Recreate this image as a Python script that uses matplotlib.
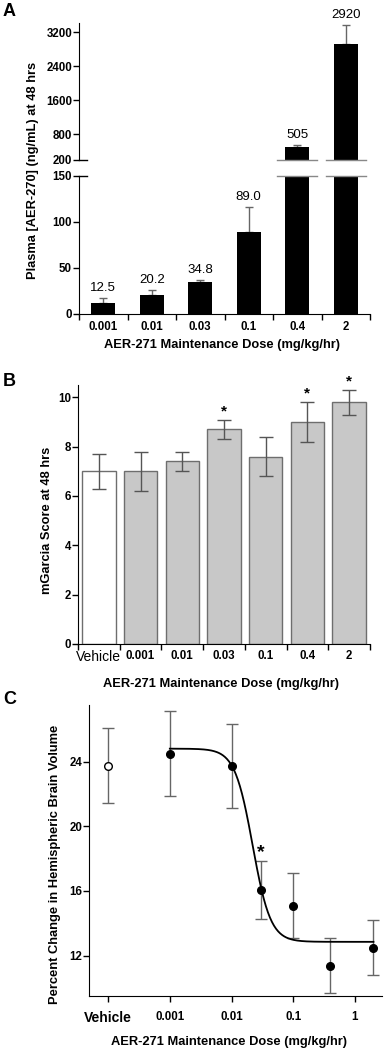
import numpy as np
import matplotlib.pyplot as plt

plt.rcParams['font.family'] = ['Liberation Sans', 'DejaVu Sans']

# Panel A: plasma AER-270 at 48 hrs
doses_a = ['0.001', '0.01', '0.03', '0.1', '0.4', '2']
plasma = [12.5, 20.2, 34.8, 89.0, 505, 2920]
plasma_err = [5, 6, 1.8, 27, 50, 450]
plasma_txt = ['12.5', '20.2', '34.8', '89.0', '505', '2920']

# Panel B: mGarcia score
groups_b = ['Vehicle', '0.001', '0.01', '0.03', '0.1', '0.4', '2']
garcia = [7.0, 7.0, 7.4, 8.7, 7.6, 9.0, 9.8]
garcia_err = [0.72, 0.8, 0.4, 0.4, 0.8, 0.8, 0.5]
garcia_sig = [False, False, False, True, False, True, True]

# Panel C: hemispheric brain volume
dose_c = [0.001, 0.01, 0.03, 0.1, 0.4, 2]
volume = [24.5, 23.75, 16.06, 15.08, 11.38, 12.48]
volume_err = [2.6, 2.6, 1.8, 2.0, 1.7, 1.7]
vehicle_vol = 23.75
vehicle_err = 2.3
# sigmoid fit shown in the figure
fit_top, fit_bottom, fit_ic50, fit_hill = 24.8, 12.85, 0.022, 3.0

ERR = '#666666'
TICK = 8.3
LAB = 9.3
fig = plt.figure(figsize=(3.84, 10.5), dpi=100)


def W(px):
    return px / 384.0


def H(y0, y1):
    return [1 - y1 / 1050.0, (y1 - y0) / 1050.0]


# ---------- A ----------
b0, h0 = H(23, 160)
axt = fig.add_axes([W(79), b0, W(291), h0])
b1, h1 = H(176, 314)
axb = fig.add_axes([W(79), b1, W(291), h1])
x = np.arange(len(doses_a))
for ax in (axt, axb):
    ax.bar(x, plasma, width=0.5, color='black', zorder=2)
    ax.errorbar(x, plasma, yerr=[np.zeros(len(x)), plasma_err], fmt='none',
                ecolor=ERR, elinewidth=1, capsize=3, zorder=1)
    ax.set_xlim(-0.5, 5.5)
    for s in ('top', 'right'):
        ax.spines[s].set_visible(False)
    ax.tick_params(axis='y', labelsize=TICK, length=4, width=1, pad=1)

axt.set_ylim(200, 3420)
axt.set_yticks([200, 800, 1600, 2400, 3200])
axt.spines['bottom'].set_visible(False)
axt.set_xticks([])
axb.set_ylim(0, 150)
axb.set_yticks([0, 50, 100, 150])
for ax in (axt, axb):
    for lab in ax.get_yticklabels():
        lab.set_fontweight('bold')

axb.set_xticks(np.arange(-0.5, 6, 1))
axb.set_xticklabels([])
axb.set_xticks(x, minor=True)
axb.set_xticklabels(doses_a, minor=True, fontsize=TICK, fontweight='bold')
axb.tick_params(axis='x', which='major', length=4, width=1)
axb.tick_params(axis='x', which='minor', length=0, pad=5)

for i in (4, 5):
    axt.plot([i - 0.41, i + 0.41], [200, 200], color='#888888', lw=1, clip_on=False)
    axb.plot([i - 0.41, i + 0.41], [150, 150], color='#888888', lw=1, clip_on=False)
axt.plot([-0.5, -0.33], [200, 200], color='black', lw=1, clip_on=False)
axb.plot([-0.5, -0.33], [150, 150], color='black', lw=1, clip_on=False)

for i, (v, e, t) in enumerate(zip(plasma, plasma_err, plasma_txt)):
    ax = axt if v > 150 else axb
    ax.annotate(t, (i, v + e), xytext=(0, 3), textcoords='offset points',
                ha='center', va='bottom', fontsize=9.5)

fig.text(W(33), 1 - 170 / 1050, 'Plasma [AER-270] (ng/mL) at 48 hrs', rotation=90,
         ha='center', va='center', fontsize=LAB, fontweight='bold')
fig.text(W(222), 1 - 345 / 1050, 'AER-271 Maintenance Dose (mg/kg/hr)',
         ha='center', va='center', fontsize=LAB, fontweight='bold')
fig.text(W(3), 1 - 11 / 1050, 'A', ha='left', va='center', fontsize=13, fontweight='bold')

# ---------- B ----------
bb, hb = H(385, 644)
axB = fig.add_axes([W(78), bb, W(292), hb])
xb = np.arange(len(groups_b))
cols = ['white'] + ['#c8c8c8'] * (len(groups_b) - 1)
axB.bar(xb, garcia, width=0.8, color=cols, edgecolor='#6e6e6e', linewidth=1, zorder=2)
axB.errorbar(xb, garcia, yerr=garcia_err, fmt='none', ecolor='#555555',
             elinewidth=1, capsize=5, zorder=3)
for i, s in enumerate(garcia_sig):
    if s:
        axB.annotate('*', (i, garcia[i] + garcia_err[i]), xytext=(0, 1),
                     textcoords='offset points', ha='center', va='bottom',
                     fontsize=11, fontweight='bold', annotation_clip=False)
axB.set_xlim(-0.5, 6.5)
axB.set_ylim(0, 10.5)
axB.set_yticks([0, 2, 4, 6, 8, 10])
for s in ('top', 'right'):
    axB.spines[s].set_visible(False)
axB.tick_params(axis='y', labelsize=TICK, length=4, width=1, pad=1)
for lab in axB.get_yticklabels():
    lab.set_fontweight('bold')
axB.set_xticks(np.arange(-0.5, 7, 1))
axB.set_xticklabels([])
axB.set_xticks(xb, minor=True)
axB.set_xticklabels(groups_b, minor=True, fontsize=TICK, fontweight='bold')
axB.tick_params(axis='x', which='major', length=4, width=1)
axB.tick_params(axis='x', which='minor', length=0, pad=4)
vlab = axB.get_xticklabels(minor=True)[0]
vlab.set_fontsize(10)
vlab.set_fontweight('normal')

fig.text(W(47), 1 - 520 / 1050, 'mGarcia Score at 48 hrs', rotation=90,
         ha='center', va='center', fontsize=LAB, fontweight='bold')
fig.text(W(221), 1 - 684 / 1050, 'AER-271 Maintenance Dose (mg/kg/hr)',
         ha='center', va='center', fontsize=LAB, fontweight='bold')
fig.text(W(3), 1 - 382 / 1050, 'B', ha='left', va='center', fontsize=13, fontweight='bold')

# ---------- C ----------
bc, hc = H(705, 996)
axC = fig.add_axes([W(89), bc, W(293), hc])
axC.set_xscale('log')
xc = np.logspace(np.log10(dose_c[0]), np.log10(dose_c[-1]), 300)
yc = fit_bottom + (fit_top - fit_bottom) / (1 + (xc / fit_ic50) ** fit_hill)
axC.plot(xc, yc, color='black', lw=1.3, zorder=2)
axC.errorbar(dose_c, volume, yerr=volume_err, fmt='none', ecolor=ERR,
             elinewidth=1, capsize=4, zorder=1)
axC.plot(dose_c, volume, 'o', color='black', ms=5.5, zorder=3)
axC.errorbar([1e-4], [vehicle_vol], yerr=[vehicle_err], fmt='none', ecolor=ERR,
             elinewidth=1, capsize=4, zorder=1)
axC.plot([1e-4], [vehicle_vol], 'o', mfc='white', mec='black', ms=5.5, mew=1, zorder=3)
axC.text(0.0295, 18.4, '*', ha='center', va='center', fontsize=14, fontweight='bold')
axC.set_xlim(4.9e-5, 2.75)
axC.set_ylim(9.5, 27.5)
axC.set_yticks([12, 16, 20, 24])
axC.set_xticks([1e-4, 1e-3, 1e-2, 1e-1, 1])
axC.set_xticklabels(['Vehicle', '0.001', '0.01', '0.1', '1'])
axC.minorticks_off()
for s in ('top', 'right'):
    axC.spines[s].set_visible(False)
axC.tick_params(axis='both', labelsize=TICK, length=4, width=1)
axC.tick_params(axis='x', pad=7)
axC.tick_params(axis='y', pad=1)
for lab in axC.get_yticklabels() + axC.get_xticklabels():
    lab.set_fontweight('bold')
axC.get_xticklabels()[0].set_fontsize(10)

fig.text(W(55), 1 - 864 / 1050, 'Percent Change in Hemispheric Brain Volume', rotation=90,
         ha='center', va='center', fontsize=LAB, fontweight='bold')
fig.text(W(229), 1 - 1042 / 1050, 'AER-271 Maintenance Dose (mg/kg/hr)',
         ha='center', va='center', fontsize=LAB, fontweight='bold')
fig.text(W(3), 1 - 700 / 1050, 'C', ha='left', va='center', fontsize=13, fontweight='bold')

fig.savefig('out.png', dpi=100)
